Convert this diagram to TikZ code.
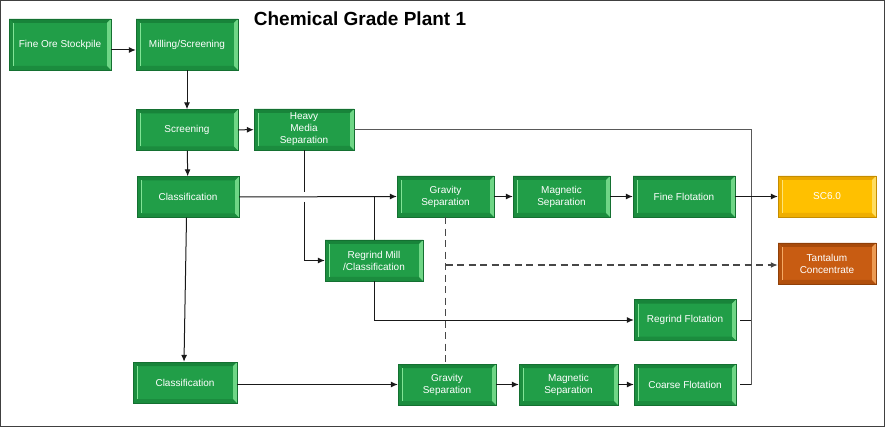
\documentclass[tikz,border=0pt]{standalone}
\usepackage{fontspec}
\setmainfont{Liberation Sans}
\usetikzlibrary{arrows.meta,calc}
\definecolor{gM}{RGB}{33,158,72}
\definecolor{gD}{RGB}{24,132,58}
\definecolor{gL}{RGB}{130,228,150}
\definecolor{yM}{RGB}{255,192,0}
\definecolor{yD}{RGB}{232,166,0}
\definecolor{yL}{RGB}{255,228,120}
\definecolor{oM}{RGB}{200,92,18}
\definecolor{oD}{RGB}{168,74,10}
\definecolor{oL}{RGB}{245,170,100}
\definecolor{lnc}{RGB}{25,25,25}
\begin{document}
\begin{tikzpicture}[x=1pt,y=-1pt,
  bevcol/.code n args={3}{\colorlet{bvM}{#1}\colorlet{bvD}{#2}\colorlet{bvL}{#3}},
  box/.style={rectangle, text=white, font=\fontsize{10}{12}\selectfont, align=center,
    minimum width=102pt, minimum height=41pt, inner sep=1pt, draw=bvD!85!black, line width=0.4pt,
    path picture={
      \coordinate (pA) at (path picture bounding box.north west);
      \coordinate (pB) at (path picture bounding box.north east);
      \coordinate (pC) at (path picture bounding box.south east);
      \coordinate (pD) at (path picture bounding box.south west);
      \fill[bvM] (pA) rectangle (pC);
      \fill[bvD] (pA) -- (pB) -- ([shift={(-4pt,-4pt)}]pB) -- ([shift={(4pt,-4pt)}]pA) -- cycle;
      \fill[bvD!70!bvM] (pD) -- (pC) -- ([shift={(-4pt,4pt)}]pC) -- ([shift={(4pt,4pt)}]pD) -- cycle;
      \fill[bvD!60!bvM] (pA) -- (pD) -- ([shift={(4pt,4pt)}]pD) -- ([shift={(4pt,-4pt)}]pA) -- cycle;
      \fill[bvL!80!bvM] (pB) -- (pC) -- ([shift={(-4pt,4pt)}]pC) -- ([shift={(-4pt,-4pt)}]pB) -- cycle;
      \draw[bvL, line width=0.9pt] ([shift={(4.3pt,-4pt)}]pA) -- ([shift={(4.3pt,4pt)}]pD);
    }},
  gbox/.style={bevcol={gM}{gD}{gL}, box},
  ybox/.style={bevcol={yM}{yD}{yL}, box},
  obox/.style={bevcol={oM}{oD}{oL}, box},
  ln/.style={draw=lnc, line width=1pt},
  tip/.style={-{Latex[length=7pt,width=6pt]}},
  arr/.style={ln, tip},
  dsh/.style={draw=lnc!80, line width=1.3pt, dash pattern=on 7pt off 4.5pt}
]
\useasboundingbox (0,0) rectangle (885,427);
\draw[draw=black!75, line width=1pt] (0.5,0.5) rectangle (884,426.5);

\node[font=\bfseries\fontsize{19}{22}\selectfont] (title) at (360,19) {Chemical Grade Plant 1};

\node[gbox, minimum height=51pt] (fos) at (60,44.5) {Fine Ore Stockpile};
\node[gbox, minimum height=51pt] (mill) at (187,44.5) {Milling/Screening};
\node[gbox] (scr) at (187,130) {Screening};
\node[gbox, minimum width=100pt] (hms) at (304,129.5) {Heavy\\Media\\Separation};
\node[gbox] (cls1) at (188,197) {Classification};
\node[gbox, minimum width=97pt] (grav1) at (445.5,196.5) {Gravity\\Separation};
\node[gbox, minimum width=97pt] (mag1) at (561.5,196.5) {Magnetic\\Separation};
\node[gbox] (ff) at (684,196.5) {Fine Flotation};
\node[ybox, minimum width=98pt] (sc) at (827,196.5) {SC6.0};
\node[obox, minimum width=98pt] (ta) at (827,263.5) {Tantalum\\Concentrate};
\node[gbox, minimum width=98pt] (rgm) at (374,260.5) {Regrind Mill\\/Classification};
\node[gbox] (rgf) at (685,320) {Regrind Flotation};
\node[gbox, minimum width=104pt] (cls2) at (185,382.5) {Classification};
\node[gbox, minimum width=98pt] (grav2) at (447,384.5) {Gravity\\Separation};
\node[gbox, minimum width=99pt] (mag2) at (568.5,384.5) {Magnetic\\Separation};
\node[gbox] (cf) at (685,384.5) {Coarse Flotation};

\coordinate (j1) at (751,129.5);
\coordinate (j2) at (751,384.5);
\coordinate (h1) at (304,192);
\coordinate (h2) at (304,202);
\coordinate (h3) at (304,260.5);

\draw[arr] (fos.east |- 0,50) -- (mill.west |- 0,50);
\draw[arr] (mill) -- (scr);
\draw[arr] (scr) -- (hms);
\draw[arr] (scr) -- (cls1);
\draw[ln, draw=black!65] (hms.east) -- (j1) -- (j2);
\draw[ln] ([xshift=4pt]rgf.east) -- (rgf.east -| j1);
\draw[ln] ([xshift=4pt]cf.east) -- (j2);
\draw[arr] (ff) -- (sc);
\draw[ln] (hms.south) -- (h1);
\draw[arr] (h2) -- (h3) -- (rgm.west);
\draw[arr] (cls1.east) -- (grav1.west);
\draw[ln] (rgm.north) -- (rgm.north |- grav1.west);
\draw[arr] (rgm.south) -- (rgm.south |- rgf.west) -- (rgf.west);
\draw[arr] (grav1) -- (mag1);
\draw[arr] (mag1) -- (ff);
\draw[dsh] (grav1.south) -- (grav1.south |- grav2.north);
\draw[dsh, tip] (grav1.south |- 0,265) -- (ta.west |- 0,265);
\draw[arr] ([xshift=-1.5pt]cls1.south) -- ([xshift=-1pt]cls2.north);
\draw[arr] (cls2.east |- grav2) -- (grav2.west);
\draw[arr] (grav2) -- (mag2);
\draw[arr] (mag2) -- (cf);
\end{tikzpicture}
\end{document}
